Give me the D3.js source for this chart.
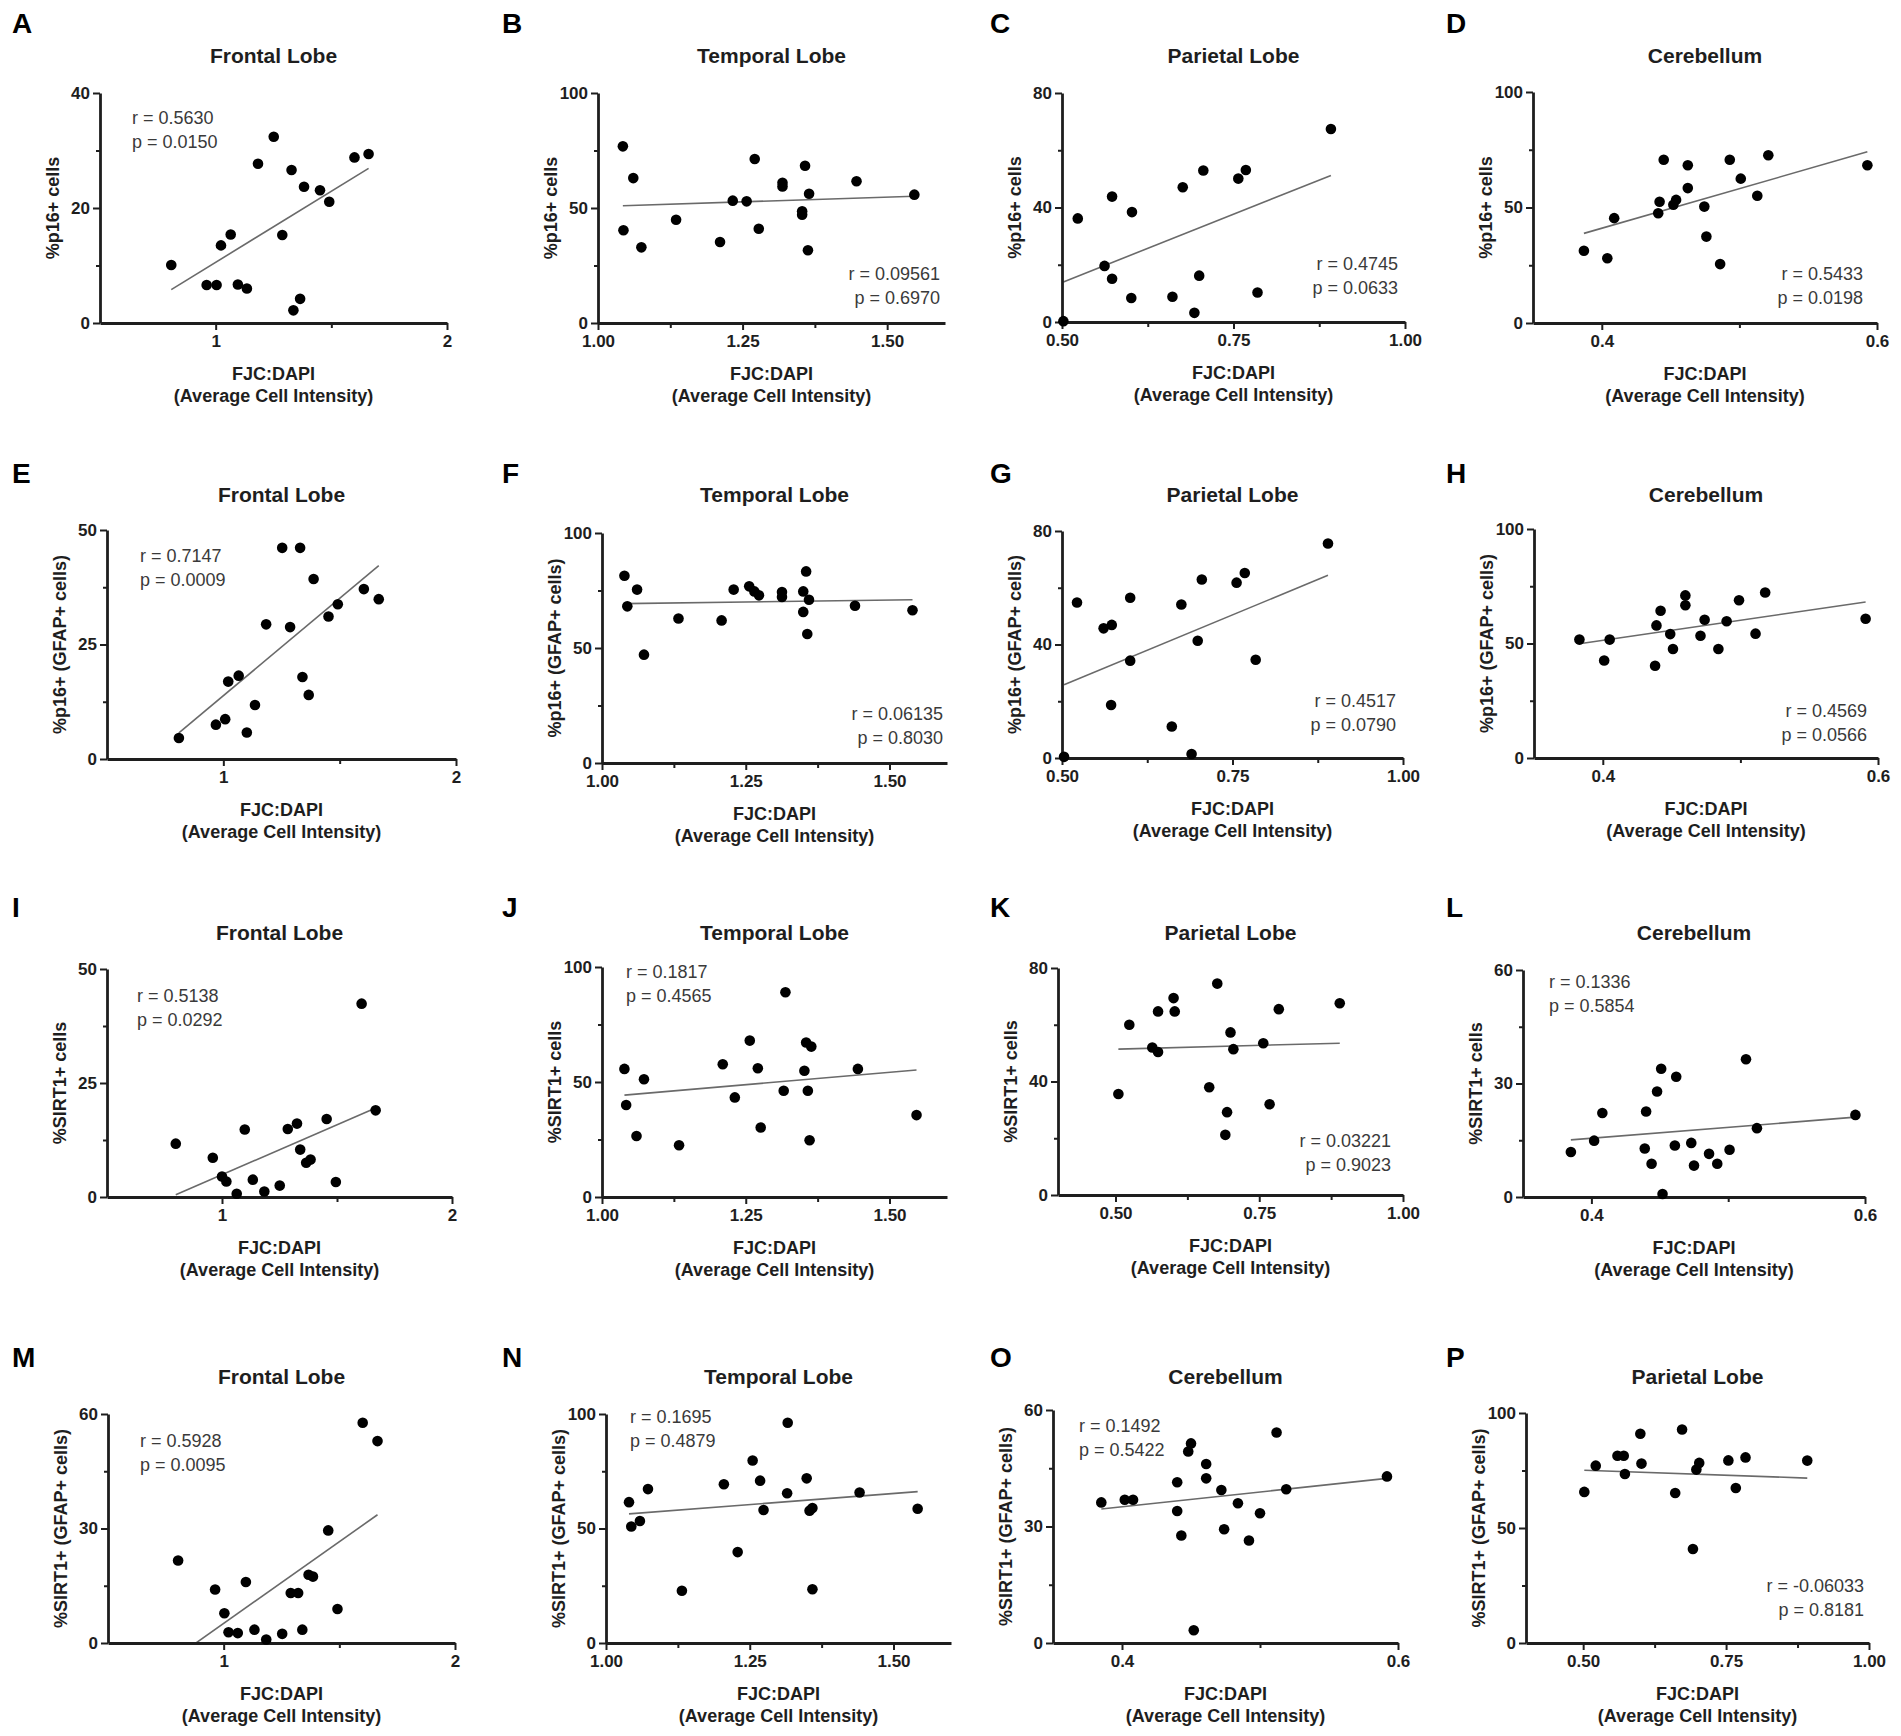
<!DOCTYPE html>
<html><head><meta charset="utf-8">
<script src="https://cdn.jsdelivr.net/npm/d3@7"></script>
<style>
body{margin:0;background:#fff;}
svg{display:block;font-family:"Liberation Sans",Arial,Helvetica,sans-serif;}
</style></head><body>
<svg id="chart" width="1901" height="1736"></svg>
<script>
// ---------- DATA ----------
const panelIds = ["A","B","C","D","E","F","G","H","I","J","K","L","M","N","O","P"];
const titles = ["Frontal Lobe","Temporal Lobe","Parietal Lobe","Cerebellum",
  "Frontal Lobe","Temporal Lobe","Parietal Lobe","Cerebellum",
  "Frontal Lobe","Temporal Lobe","Parietal Lobe","Cerebellum",
  "Frontal Lobe","Temporal Lobe","Cerebellum","Parietal Lobe"];
const yLabels = ["%p16+ cells","%p16+ cells","%p16+ cells","%p16+ cells",
  "%p16+ (GFAP+ cells)","%p16+ (GFAP+ cells)","%p16+ (GFAP+ cells)","%p16+ (GFAP+ cells)",
  "%SIRT1+ cells","%SIRT1+ cells","%SIRT1+ cells","%SIRT1+ cells",
  "%SIRT1+ (GFAP+ cells)","%SIRT1+ (GFAP+ cells)","%SIRT1+ (GFAP+ cells)","%SIRT1+ (GFAP+ cells)"];
const xTitle1 = "FJC:DAPI";
const xTitle2 = "(Average Cell Intensity)";
const rText = ["r = 0.5630","r = 0.09561","r = 0.4745","r = 0.5433","r = 0.7147","r = 0.06135","r = 0.4517","r = 0.4569",
  "r = 0.5138","r = 0.1817","r = 0.03221","r = 0.1336","r = 0.5928","r = 0.1695","r = 0.1492","r = -0.06033"];
const pText = ["p = 0.0150","p = 0.6970","p = 0.0633","p = 0.0198","p = 0.0009","p = 0.8030","p = 0.0790","p = 0.0566",
  "p = 0.0292","p = 0.4565","p = 0.9023","p = 0.5854","p = 0.0095","p = 0.4879","p = 0.5422","p = 0.8181"];

// x-axis types per panel
const xTypes = ["frontal","temporal","parietal5","cereb","frontal","temporal","parietal5","cereb",
  "frontal","temporal","parietal4","cereb","frontal","temporal","cereb","parietal4"];
const xDomFrontal = [0.5, 2], xTicksFrontal = [1, 2], xMinorFrontal = [1.5], xLabFrontal = ["1","2"];
const xDomTemporal = [1.0, 1.6], xTicksTemporal = [1.0, 1.25, 1.5], xMinorTemporal = [1.125, 1.375], xLabTemporal = ["1.00","1.25","1.50"];
const xDomParietal5 = [0.5, 1.0], xDomParietal4 = [0.4, 1.0], xTicksParietal = [0.5, 0.75, 1.0], xMinorParietal = [0.625, 0.875], xLabParietal = ["0.50","0.75","1.00"];
const xDomCereb = [0.35, 0.6], xTicksCereb = [0.4, 0.6], xMinorCereb = [0.5], xLabCereb = ["0.4","0.6"];
// y-axis max per panel
const yMax = [40,100,80,100, 50,100,80,100, 50,100,80,60, 60,100,60,100];

// scatter points
const xA = [0.808,0.961,1.004,1.023,1.065,1.096,1.135,1.183,1.251,1.288,1.328,1.336,1.365,1.382,1.451,1.491,1.600,1.661];
const yA = [10.1,6.6,6.6,13.5,15.4,6.7,6.0,27.7,32.4,15.3,26.6,2.2,4.2,23.7,23.1,21.1,28.8,29.4];
const xB = [1.043,1.044,1.061,1.075,1.135,1.211,1.233,1.257,1.271,1.278,1.319,1.319,1.353,1.353,1.358,1.365,1.363,1.447,1.547];
const yB = [76.8,40.3,63.0,32.9,44.9,35.2,53.2,52.9,71.3,41.0,61.0,59.4,48.6,47.1,68.4,56.2,31.6,61.6,55.8];
const xC = [0.502,0.523,0.562,0.573,0.573,0.601,0.602,0.661,0.676,0.693,0.700,0.706,0.757,0.768,0.785,0.892];
const yC = [0.3,36.2,19.6,43.8,15.1,8.4,38.4,8.8,47.1,3.2,16.2,52.9,50.1,53.1,10.3,67.4];
const xD = [0.387,0.404,0.409,0.441,0.442,0.445,0.452,0.454,0.4625,0.4625,0.4745,0.476,0.486,0.493,0.501,0.513,0.521,0.593];
const yD = [31.3,28.0,45.4,47.5,52.5,70.7,51.2,53.3,68.3,58.4,50.4,37.4,25.5,70.7,62.5,55.1,72.6,68.3];
const xE = [0.809,0.968,1.008,1.021,1.066,1.101,1.136,1.184,1.253,1.287,1.330,1.340,1.367,1.388,1.452,1.492,1.604,1.668];
const yE = [4.6,7.5,8.7,16.9,18.2,5.8,11.8,29.4,46.1,28.8,46.1,17.9,14.0,39.3,31.1,33.8,37.1,34.9];
const xF = [1.039,1.044,1.061,1.073,1.133,1.208,1.229,1.256,1.265,1.273,1.313,1.313,1.350,1.355,1.350,1.360,1.357,1.440,1.540];
const yF = [81.4,68.1,75.4,47.1,62.8,62.0,75.4,76.8,74.6,72.9,74.3,72.2,74.6,83.3,65.7,71.0,56.1,68.4,66.4];
const xG = [0.503,0.522,0.561,0.573,0.572,0.600,0.600,0.661,0.675,0.690,0.699,0.705,0.756,0.768,0.784,0.890];
const yG = [0.4,54.8,45.7,46.9,18.7,56.5,34.3,11.1,54.1,1.4,41.3,62.9,61.8,65.2,34.6,75.6];
const xH = [0.383,0.401,0.405,0.438,0.439,0.442,0.449,0.451,0.460,0.460,0.471,0.474,0.484,0.490,0.499,0.511,0.518,0.591];
const yH = [51.7,42.6,51.7,40.3,57.9,64.3,54.1,47.6,71.0,66.7,53.4,60.4,47.6,59.7,68.9,54.3,72.3,60.8];
const xI = [0.799,0.960,1.000,1.019,1.064,1.099,1.134,1.184,1.251,1.286,1.326,1.340,1.366,1.385,1.455,1.495,1.607,1.668];
const yI = [11.7,8.6,4.5,3.4,0.7,14.8,3.8,1.2,2.5,14.9,16.1,10.4,7.5,8.2,17.1,3.3,42.4,19.0];
const xJ = [1.039,1.042,1.060,1.073,1.134,1.210,1.231,1.257,1.271,1.276,1.319,1.316,1.352,1.355,1.358,1.364,1.361,1.445,1.547];
const yJ = [55.7,40.0,26.5,51.2,22.5,57.7,43.3,68.0,56.0,30.2,89.0,46.2,54.9,67.2,46.2,65.4,24.7,55.7,35.6];
const xK = [0.505,0.524,0.564,0.574,0.574,0.601,0.603,0.663,0.677,0.694,0.691,0.700,0.705,0.757,0.768,0.784,0.890];
const yK = [35.6,60.0,52.0,64.7,50.4,69.4,64.7,38.0,74.5,29.2,21.2,57.3,51.4,53.5,32.0,65.5,67.6];
const xL = [0.385,0.402,0.408,0.439,0.440,0.444,0.448,0.451,0.452,0.462,0.461,0.473,0.475,0.486,0.492,0.501,0.513,0.521,0.593];
const yL = [11.9,14.9,22.2,12.8,22.6,8.8,27.9,33.9,0.8,31.8,13.6,14.3,8.3,11.4,8.8,12.5,36.4,18.2,21.7];
const xM = [0.803,0.963,1.003,1.021,1.061,1.096,1.133,1.184,1.253,1.290,1.322,1.340,1.367,1.386,1.452,1.492,1.601,1.665];
const yM = [21.6,14.0,7.8,2.8,2.6,16.0,3.5,0.9,2.4,13.1,13.1,3.5,17.9,17.4,29.5,8.9,57.7,52.9];
const xN = [1.040,1.044,1.059,1.073,1.132,1.205,1.229,1.255,1.268,1.274,1.315,1.316,1.349,1.354,1.359,1.359,1.441,1.542];
const yN = [61.5,50.9,53.3,67.2,22.8,69.3,39.7,79.7,70.9,58.1,65.4,96.2,71.9,57.8,58.9,23.5,65.7,58.6];
const xO = [0.385,0.402,0.408,0.440,0.440,0.443,0.448,0.450,0.452,0.461,0.461,0.472,0.474,0.484,0.492,0.500,0.512,0.519,0.592];
const yO = [36.2,36.9,36.9,41.4,34.0,27.7,49.3,51.4,3.3,46.1,42.4,39.4,29.3,36.0,26.4,33.4,54.2,39.6,42.9];
const xP = [0.502,0.522,0.560,0.571,0.573,0.600,0.602,0.661,0.673,0.692,0.698,0.703,0.754,0.767,0.784,0.892];
const yP = [65.7,77.1,81.4,81.4,73.5,91.0,78.0,65.2,92.8,40.9,75.4,78.3,79.4,67.4,80.7,79.3];

// regression line: y value at smallest x and at largest x of each panel
const fitA = [5.8,26.9], fitB = [51.0,55.1], fitC = [14.0,51.2], fitD = [38.8,74.1];
const fitE = [5.7,42.2], fitF = [69.3,71.0], fitG = [25.8,64.4], fitH = [49.9,68.1];
const fitI = [0.5,19.5], fitJ = [44.3,55.2], fitK = [51.4,53.5], fitL = [15.1,21.1];
const fitM = [-3.3,33.6], fitN = [56.4,66.1], fitO = [34.5,42.4], fitP = [75.1,71.7];

const xData = [xA,xB,xC,xD,xE,xF,xG,xH,xI,xJ,xK,xL,xM,xN,xO,xP];
const yData = [yA,yB,yC,yD,yE,yF,yG,yH,yI,yJ,yK,yL,yM,yN,yO,yP];
const fits = [fitA,fitB,fitC,fitD,fitE,fitF,fitG,fitH,fitI,fitJ,fitK,fitL,fitM,fitN,fitO,fitP];

// ---------- LAYOUT ----------
// plot boxes [left, right, top, bottom]
const boxes = [
  [100,447,93,323],[598,945,93,323],[1062,1405,93,322],[1533,1877,92,323],
  [107,456,530,759],[602,947,533,763],[1062,1403,531,758],[1534,1878,529,758],
  [107,452,969,1197],[602,947,967,1197],[1058,1403,968,1195],[1523,1865,970,1197],
  [108,455,1414,1643],[606,951,1414,1643],[1053,1398,1410,1643],[1526,1869,1413,1643]];
const letterX = [12,502,990,1446];
const letterY = [33,483,917,1367];
const titleY = [63,502,940,1384];
// stats placement: [anchor, dx, dy]
const statPos = [
  ["start",32,31],["end",5,43],["end",7,52],["end",14,43],
  ["start",33,32],["end",4,43],["end",7,51],["end",11,41],
  ["start",30,33],["start",24,11],["end",12,48],["start",26,18],
  ["start",32,33],["start",24,9],["start",26,22],["end",5,51]];

const svg = d3.select("#chart");
const ink = "#1e1e1e";

function xSpec(t){
  if(t==="frontal") return {dom:xDomFrontal,ticks:xTicksFrontal,minor:xMinorFrontal,lab:xLabFrontal};
  if(t==="temporal") return {dom:xDomTemporal,ticks:xTicksTemporal,minor:xMinorTemporal,lab:xLabTemporal};
  if(t==="parietal5") return {dom:xDomParietal5,ticks:xTicksParietal,minor:xMinorParietal,lab:xLabParietal};
  if(t==="parietal4") return {dom:xDomParietal4,ticks:xTicksParietal,minor:xMinorParietal,lab:xLabParietal};
  return {dom:xDomCereb,ticks:xTicksCereb,minor:xMinorCereb,lab:xLabCereb};
}

panelIds.forEach((id,i)=>{
  const [L,R,T,B] = boxes[i];
  const row = Math.floor(i/4), col = i%4;
  const xs = xSpec(xTypes[i]);
  const x = d3.scaleLinear().domain(xs.dom).range([L,R]);
  const y = d3.scaleLinear().domain([0,yMax[i]]).range([B,T]);
  const g = svg.append("g");

  // letter
  g.append("text").attr("x",letterX[col]).attr("y",letterY[row])
    .attr("font-size",28).attr("font-weight","bold").attr("fill","#000").text(id);
  // title
  g.append("text").attr("x",(L+R)/2).attr("y",titleY[row]).attr("text-anchor","middle")
    .attr("font-size",21).attr("font-weight","bold").attr("fill",ink).text(titles[i]);

  // clip for fit line
  svg.append("clipPath").attr("id","clip"+id).append("rect")
    .attr("x",L).attr("y",T).attr("width",R-L).attr("height",B-T);

  // regression line
  const xd = xData[i];
  const x0 = d3.min(xd), x1 = d3.max(xd);
  g.append("line").attr("clip-path","url(#clip"+id+")")
    .attr("x1",x(x0)).attr("y1",y(fits[i][0])).attr("x2",x(x1)).attr("y2",y(fits[i][1]))
    .attr("stroke","#6a6a6a").attr("stroke-width",1.6);

  // axes
  const yMajor = [0, yMax[i]/2, yMax[i]];
  const yMinor = [yMax[i]/4, yMax[i]*3/4];
  g.append("g").attr("transform",`translate(${L},0)`)
    .call(d3.axisLeft(y).tickValues(yMajor).tickSize(7).tickSizeOuter(0).tickPadding(3).tickFormat(d3.format("d")));
  g.append("g").attr("transform",`translate(${L},0)`)
    .call(d3.axisLeft(y).tickValues(yMinor).tickSize(4).tickSizeOuter(0).tickFormat(""))
    .call(s=>s.select(".domain").remove());
  g.append("g").attr("transform",`translate(0,${B})`)
    .call(d3.axisBottom(x).tickValues(xs.ticks).tickSize(7).tickSizeOuter(0).tickPadding(5)
      .tickFormat((d,k)=>xs.lab[k]));
  g.append("g").attr("transform",`translate(0,${B})`)
    .call(d3.axisBottom(x).tickValues(xs.minor).tickSize(5).tickSizeOuter(0).tickFormat(""))
    .call(s=>s.select(".domain").remove());
  g.selectAll(".domain").attr("stroke",ink).attr("stroke-width",2.8);
  g.selectAll(".tick line").attr("stroke",ink).attr("stroke-width",2);
  g.selectAll(".tick text").attr("font-size",17).attr("font-weight","bold").attr("fill",ink)
    .attr("font-family",'"Liberation Sans",Arial,sans-serif');

  // points
  g.append("g").selectAll("circle").data(xd.map((v,k)=>[v,yData[i][k]])).join("circle")
    .attr("cx",d=>x(d[0])).attr("cy",d=>y(d[1])).attr("r",5.3).attr("fill","#000");

  // axis titles
  g.append("text").attr("x",(L+R)/2).attr("y",B+57).attr("text-anchor","middle")
    .attr("font-size",18).attr("font-weight","bold").attr("fill",ink).text(xTitle1);
  g.append("text").attr("x",(L+R)/2).attr("y",B+79).attr("text-anchor","middle")
    .attr("font-size",18).attr("font-weight","bold").attr("fill",ink).text(xTitle2);
  g.append("text").attr("transform",`translate(${L-41},${(T+B)/2}) rotate(-90)`)
    .attr("text-anchor","middle").attr("font-size",18).attr("font-weight","bold").attr("fill",ink)
    .text(yLabels[i]);

  // stats
  const [anc,dx,dy] = statPos[i];
  let sx, sy;
  if(anc==="start"){ sx = L+dx; sy = T+dy; } else { sx = R-dx; sy = B-dy; }
  g.append("text").attr("x",sx).attr("y",sy).attr("text-anchor",anc)
    .attr("font-size",18).attr("fill","#3a3a3a").text(rText[i]);
  g.append("text").attr("x",sx).attr("y",sy+23.5).attr("text-anchor",anc)
    .attr("font-size",18).attr("fill","#3a3a3a").text(pText[i]);
});
</script>
</body></html>
